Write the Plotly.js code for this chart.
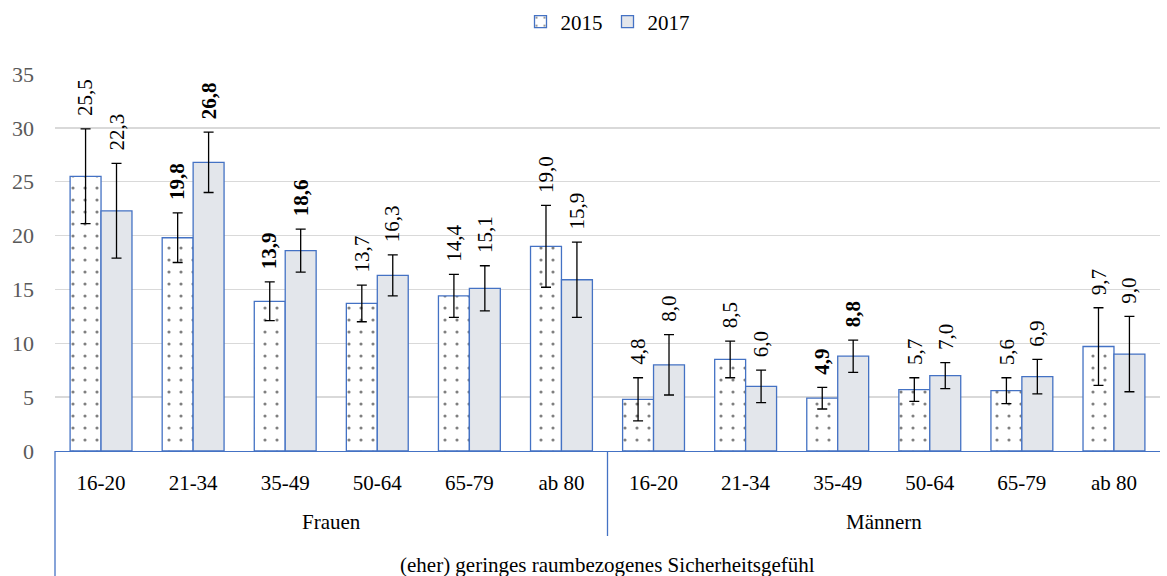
<!DOCTYPE html>
<html>
<head>
<meta charset="utf-8">
<script src="https://cdn.plot.ly/plotly-3.0.1.min.js"></script>
<style>html,body{margin:0;padding:0;background:#fff;}#chart{width:1167px;height:576px;}</style>
</head>
<body>
<div id="chart"></div>
<script>
// ---- data ----
const ageGroups = ["16-20", "21-34", "35-49", "50-64", "65-79", "ab 80"];
const sexGroups = ["Frauen", "Männern"];
const outerLabel = "(eher) geringes raumbezogenes Sicherheitsgefühl";
const values2015 = [25.5, 19.8, 13.9, 13.7, 14.4, 19.0, 4.8, 8.5, 4.9, 5.7, 5.6, 9.7];
const values2017 = [22.3, 26.8, 18.6, 16.3, 15.1, 15.9, 8.0, 6.0, 8.8, 7.0, 6.9, 9.0];
const err2015 = [4.4, 2.3, 1.8, 1.7, 2.0, 3.8, 2.0, 1.7, 1.0, 1.1, 1.2, 3.6];
const err2017 = [4.4, 2.8, 2.0, 1.9, 2.1, 3.5, 2.8, 1.5, 1.5, 1.2, 1.6, 3.5];
const bold2015 = [false, true, true, false, false, false, false, false, true, false, false, false];
const bold2017 = [false, true, true, false, false, false, false, false, true, false, false, false];
const seriesNames = ["2015", "2017"];

// ---- build ----
const FONT = "Liberation Serif";
const BLUE = "#4472C4";
const n = sexGroups.length * ageGroups.length;
const xs = Array.from({length: n}, (_, i) => i);
const tickText = [];
sexGroups.forEach(() => ageGroups.forEach(a => tickText.push(a)));
const BW = 0.336;

const fmt = v => v.toFixed(1).replace(".", ",");

const t2015 = {
  type: "bar", name: seriesNames[0], x: xs, y: values2015,
  width: BW, offset: -BW,
  marker: {color: "#ffffff", line: {color: BLUE, width: 1.3},
           pattern: {shape: ".", fgcolor: "#000000", bgcolor: "#ffffff", size: 12, solidity: 0.055, fillmode: "overlay"}},
  error_y: {type: "data", array: err2015, visible: true, color: "#000000", thickness: 1.3, width: 5},
  hoverinfo: "skip"
};
const t2017 = {
  type: "bar", name: seriesNames[1], x: xs, y: values2017,
  width: BW, offset: 0,
  marker: {color: "#E3E6EB", line: {color: BLUE, width: 1.3}},
  error_y: {type: "data", array: err2017, visible: true, color: "#000000", thickness: 1.3, width: 5},
  hoverinfo: "skip"
};

const annotations = [];
function addLabels(vals, errs, bolds, dx) {
  vals.forEach((v, i) => {
    const t = fmt(v);
    annotations.push({
      xref: "x", yref: "y", x: i + dx, y: v + errs[i],
      text: bolds[i] ? "<b>" + t + "</b>" : t,
      textangle: -90, showarrow: false, xanchor: "center", yanchor: "bottom",
      yshift: 11, font: {family: FONT, size: 21, color: "#000000"}
    });
  });
}
addLabels(values2015, err2015, bold2015, -BW / 2);
addLabels(values2017, err2017, bold2017, BW / 2);

const plotH = 576 - 74 - 125;
const py = px => -px / plotH; // pixels below the axis -> paper units
sexGroups.forEach((g, k) => {
  annotations.push({
    xref: "x", yref: "paper", x: k * ageGroups.length + (ageGroups.length - 1) / 2, y: py(71),
    text: g, showarrow: false, xanchor: "center", yanchor: "middle",
    font: {family: FONT, size: 21, color: "#000000"}
  });
});
annotations.push({
  xref: "paper", yref: "paper", x: 0.5, y: py(114), text: outerLabel,
  showarrow: false, xanchor: "center", yanchor: "middle",
  font: {family: FONT, size: 21, color: "#000000"}
});

const shapes = [
  {type: "line", xref: "paper", yref: "paper", x0: 0, x1: 0, y0: 0, y1: py(125), line: {color: BLUE, width: 1.3}},
  {type: "line", xref: "paper", yref: "paper", x0: 0.5, x1: 0.5, y0: 0, y1: py(85), line: {color: BLUE, width: 1.3}}
];

const layout = {
  width: 1167, height: 576,
  margin: {l: 55, r: 7, t: 74, b: 125, autoexpand: false},
  paper_bgcolor: "#ffffff", plot_bgcolor: "#ffffff",
  font: {family: FONT, size: 21, color: "#000000"},
  barmode: "group",
  showlegend: true,
  legend: {orientation: "h", x: 0.5, xanchor: "center", y: 1 + 52 / plotH, yanchor: "middle",
           font: {family: FONT, size: 21, color: "#000000"}, itemwidth: 30, traceorder: "normal"},
  xaxis: {range: [-0.5, n - 0.5], tickvals: xs, ticktext: tickText, showgrid: false, zeroline: false,
          showline: true, linecolor: BLUE, linewidth: 1.3, ticks: "", ticklabelstandoff: 12,
          tickfont: {family: FONT, size: 21, color: "#000000"}, fixedrange: true, automargin: false},
  yaxis: {range: [0, 35], dtick: 5, tick0: 0, showgrid: true, gridcolor: "#D9D9D9", gridwidth: 1.3,
          zeroline: false, showline: false, ticks: "", ticklabelstandoff: 20,
          tickfont: {family: FONT, size: 22, color: "#595959"}, fixedrange: true, automargin: false},
  annotations: annotations,
  shapes: shapes
};

Plotly.newPlot("chart", [t2015, t2017], layout, {displayModeBar: false, staticPlot: true});
</script>
</body>
</html>
